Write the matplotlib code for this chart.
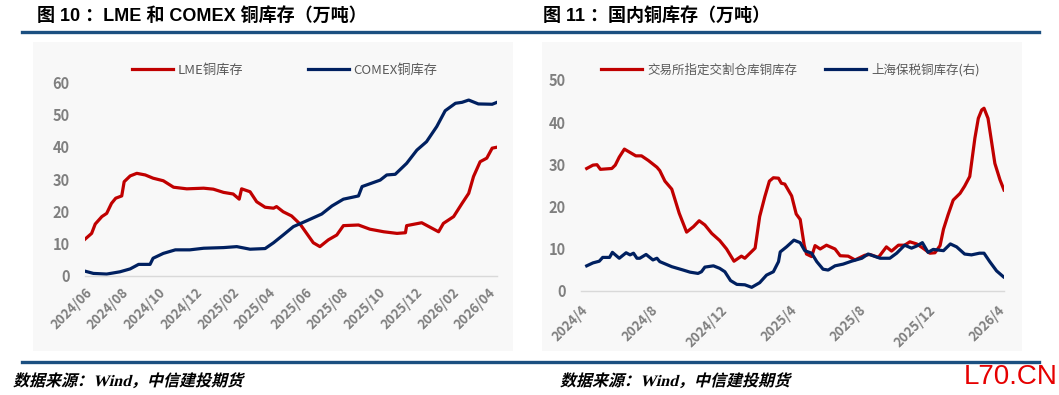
import matplotlib
matplotlib.use('Agg')
import matplotlib.pyplot as plt
import pandas as pd
from matplotlib.patches import Rectangle, PathPatch
from matplotlib.lines import Line2D
from matplotlib.textpath import TextPath
from matplotlib.font_manager import FontProperties
from matplotlib.transforms import Affine2D

plt.rcParams['font.family'] = ['Noto Sans CJK SC', 'DejaVu Sans']

# ---- 图10: LME / COMEX copper stocks (10k t) ----
lme_dates = ['2024-06-01', '2024-06-12', '2024-06-18', '2024-06-29', '2024-07-07', '2024-07-15',
             '2024-07-22', '2024-08-01', '2024-08-05', '2024-08-15', '2024-08-26', '2024-09-09',
             '2024-09-22', '2024-10-09', '2024-10-26', '2024-11-17', '2024-12-15', '2024-12-31',
             '2025-01-17', '2025-02-02', '2025-02-12', '2025-02-16', '2025-03-02', '2025-03-13',
             '2025-03-27', '2025-04-10', '2025-04-15', '2025-04-26', '2025-05-10', '2025-05-24',
             '2025-06-04', '2025-06-15', '2025-06-26', '2025-07-10', '2025-07-24', '2025-08-04',
             '2025-08-29', '2025-09-17', '2025-10-10', '2025-11-01', '2025-11-15', '2025-11-17',
             '2025-12-12', '2025-12-26', '2026-01-09', '2026-01-17', '2026-02-03', '2026-02-17',
             '2026-02-28', '2026-03-08', '2026-03-19', '2026-03-30', '2026-04-08', '2026-04-16']
lme_vals = [11.4, 13.2, 16.1, 18.4, 19.4, 22.5, 24.1, 24.8, 29.2, 31.0, 31.8, 31.3,
            30.3, 29.5, 27.5, 27.0, 27.2, 26.9, 25.9, 25.4, 23.8, 27.0, 26.1, 23.0,
            21.3, 21.0, 21.5, 19.9, 18.6, 16.1, 13.2, 10.3, 9.1, 11.2, 12.7, 15.6,
            15.8, 14.5, 13.7, 13.2, 13.4, 15.6, 16.5, 15.1, 13.7, 16.3, 18.4, 22.5,
            25.6, 30.8, 35.4, 36.5, 39.6, 39.9]

comex_dates = ['2024-06-01', '2024-06-15', '2024-07-07', '2024-07-29', '2024-08-15', '2024-08-29',
               '2024-09-17', '2024-09-22', '2024-10-09', '2024-10-29', '2024-11-22', '2024-12-15',
               '2025-01-17', '2025-02-08', '2025-03-02', '2025-03-27', '2025-04-10', '2025-04-26',
               '2025-05-13', '2025-06-04', '2025-06-29', '2025-07-16', '2025-08-04', '2025-08-29',
               '2025-09-04', '2025-10-04', '2025-10-15', '2025-10-29', '2025-11-17', '2025-12-04',
               '2025-12-20', '2026-01-06', '2026-01-20', '2026-02-06', '2026-02-17', '2026-02-28',
               '2026-03-16', '2026-04-08', '2026-04-16']
comex_vals = [1.5, 0.8, 0.6, 1.3, 2.2, 3.6, 3.6, 5.5, 7.0, 8.1, 8.1, 8.6,
              8.8, 9.1, 8.3, 8.5, 10.3, 12.7, 15.3, 17.1, 19.2, 21.7, 23.8, 24.8,
              27.7, 29.7, 31.3, 31.5, 34.9, 39.0, 41.6, 46.3, 51.2, 53.5, 53.8, 54.5,
              53.3, 53.2, 53.8]

# ---- 图11: domestic copper stocks (10k t) ----
shfe_dates = ['2024-04-11', '2024-04-22', '2024-04-29', '2024-05-05', '2024-05-25', '2024-05-31',
              '2024-06-07', '2024-06-16', '2024-06-26', '2024-07-06', '2024-07-16', '2024-07-28',
              '2024-08-12', '2024-08-17', '2024-08-26', '2024-09-07', '2024-09-20', '2024-10-03',
              '2024-10-15', '2024-10-25', '2024-11-04', '2024-11-16', '2024-11-30', '2024-12-12',
              '2024-12-25', '2025-01-07', '2025-01-13', '2025-01-31', '2025-02-08', '2025-02-17',
              '2025-02-25', '2025-03-04', '2025-03-13', '2025-03-18', '2025-03-24', '2025-04-05',
              '2025-04-13', '2025-04-20', '2025-04-27', '2025-05-01', '2025-05-10', '2025-05-16',
              '2025-05-25', '2025-06-05', '2025-06-20', '2025-06-29', '2025-07-13', '2025-07-25',
              '2025-08-11', '2025-08-20', '2025-09-04', '2025-09-18', '2025-09-27', '2025-10-09',
              '2025-10-20', '2025-10-29', '2025-11-10', '2025-11-21', '2025-12-03', '2025-12-12',
              '2025-12-21', '2025-12-27', '2026-01-04', '2026-01-13', '2026-01-25', '2026-02-02',
              '2026-02-11', '2026-02-20', '2026-02-26', '2026-03-04', '2026-03-08', '2026-03-15',
              '2026-03-27', '2026-04-05', '2026-04-12']
shfe_vals = [29.0, 29.8, 29.9, 28.8, 29.0, 29.8, 31.7, 33.6, 32.8, 32.0, 32.0, 30.9,
             29.3, 28.5, 26.0, 24.1, 18.4, 13.9, 15.2, 16.6, 15.6, 13.6, 11.9, 9.9,
             7.0, 8.2, 7.7, 10.1, 17.6, 22.3, 26.0, 26.8, 26.7, 25.5, 25.3, 22.5,
             18.2, 16.9, 10.8, 8.7, 8.1, 10.7, 9.9, 10.8, 9.9, 8.3, 8.2, 7.3,
             8.4, 8.6, 7.9, 10.4, 9.4, 10.8, 10.8, 11.6, 11.1, 10.1, 8.9, 9.0,
             10.7, 14.6, 18.0, 21.5, 23.1, 24.8, 27.1, 36.2, 40.9, 42.9, 43.3, 40.9,
             30.2, 26.3, 23.9]

bonded_dates = ['2024-04-11', '2024-04-22', '2024-05-03', '2024-05-09', '2024-05-21', '2024-05-26',
                '2024-06-07', '2024-06-19', '2024-06-26', '2024-07-02', '2024-07-08', '2024-07-13',
                '2024-07-24', '2024-08-05', '2024-08-12', '2024-08-17', '2024-09-07', '2024-09-27',
                '2024-10-09', '2024-10-23', '2024-10-29', '2024-11-04', '2024-11-19', '2024-11-30',
                '2024-12-09', '2024-12-19', '2024-12-30', '2025-01-13', '2025-01-25', '2025-02-08',
                '2025-02-20', '2025-03-04', '2025-03-13', '2025-03-16', '2025-03-27', '2025-04-09',
                '2025-04-20', '2025-04-28', '2025-05-10', '2025-05-19', '2025-05-30', '2025-06-08',
                '2025-06-20', '2025-07-04', '2025-07-19', '2025-08-06', '2025-08-17', '2025-09-07',
                '2025-09-24', '2025-10-06', '2025-10-20', '2025-11-01', '2025-11-10', '2025-11-20',
                '2025-11-30', '2025-12-09', '2025-12-27', '2026-01-08', '2026-01-19', '2026-02-02',
                '2026-02-14', '2026-02-28', '2026-03-08', '2026-03-18', '2026-03-30', '2026-04-11']
bonded_vals = [5.9, 6.6, 7.0, 7.9, 7.9, 9.1, 7.7, 9.0, 8.5, 8.9, 7.7, 7.7,
               8.6, 7.3, 7.7, 6.9, 5.7, 4.9, 4.4, 4.1, 4.5, 5.6, 5.9, 5.3,
               4.5, 2.4, 1.5, 1.4, 0.8, 1.9, 3.7, 4.5, 6.9, 9.2, 10.4, 12.0,
               11.4, 9.5, 8.9, 6.9, 5.1, 4.9, 5.9, 6.3, 7.0, 7.7, 8.7, 7.7,
               7.7, 8.9, 10.8, 10.1, 10.6, 11.4, 9.1, 9.8, 9.5, 11.1, 10.4, 8.7,
               8.5, 8.9, 8.9, 6.9, 4.7, 3.3]

RED = '#c00000'
NAVY = '#002060'
TICK = '#7f7f7f'
LEG = '#595959'
RULE = '#1b4f80'
W, H = 1059, 395

fig = plt.figure(figsize=(W / 100, H / 100), dpi=100)

# light panel backgrounds (behind the axes)
for x0 in (33, 542):
    fig.patches.append(Rectangle((x0 / W, 1 - 351 / H), 480 / W, 309 / H,
                                 transform=fig.transFigure, facecolor='#f8f8f8',
                                 edgecolor='none', zorder=-5))

# blue rules above and below
for yy in (32, 362):
    fig.add_artist(Line2D([22 / W, 1039 / W], [1 - yy / H, 1 - yy / H],
                          transform=fig.transFigure, color=RULE, lw=2.4))


def style_axes(ax, ymax, xpad):
    ax.set_facecolor('none')
    for s in ('top', 'right', 'left'):
        ax.spines[s].set_visible(False)
    ax.spines['bottom'].set_color('#d9d9d9')
    ax.spines['bottom'].set_linewidth(1.0)
    ax.set_ylim(0, ymax)
    ax.set_yticks(range(0, ymax + 1, 10))
    ax.tick_params(axis='y', length=0, pad=11, labelsize=10.5, labelcolor=TICK)
    ax.tick_params(axis='x', length=0, pad=xpad, labelsize=9.5, labelcolor=TICK)
    for lab in ax.get_yticklabels():
        lab.set_fontweight('bold')


# ---- left panel ----
ax1 = fig.add_axes([85 / W, 1 - 276 / H, (497 - 85) / W, (276 - 82.3) / H])
ax1.plot(pd.to_datetime(lme_dates), lme_vals, color=RED, lw=2.3, label='LME铜库存')
ax1.plot(pd.to_datetime(comex_dates), comex_vals, color=NAVY, lw=2.3, label='COMEX铜库存')
style_axes(ax1, 60, 7)
ax1.set_xlim(pd.Timestamp('2024-06-01'), pd.Timestamp('2026-04-16'))
ticks1 = pd.date_range('2024-06-01', '2026-04-01', freq='2MS')
ax1.set_xticks(ticks1)
ax1.set_xticklabels([d.strftime('%Y/%m') for d in ticks1], rotation=45, ha='right',
                    rotation_mode='anchor', fontweight='bold')
ax1.legend(loc='center left', bbox_to_anchor=(132 / W, 1 - 70 / H),
           bbox_transform=fig.transFigure, ncol=2, frameon=False, fontsize=9.5,
           handlelength=3.1, handletextpad=0.35, columnspacing=4.9,
           borderpad=0, borderaxespad=0, labelcolor=LEG)

# ---- right panel ----
ax2 = fig.add_axes([581 / W, 1 - 290.7 / H, (1004 - 581) / W, (290.7 - 80) / H])
ax2.plot(pd.to_datetime(shfe_dates), shfe_vals, color=RED, lw=2.3, label='交易所指定交割仓库铜库存')
ax2.plot(pd.to_datetime(bonded_dates), bonded_vals, color=NAVY, lw=2.3, label='上海保税铜库存(右)')
style_axes(ax2, 50, 9)
ax2.set_xlim(pd.Timestamp('2024-04-01'), pd.Timestamp('2026-04-12'))
ticks2 = pd.date_range('2024-04-01', '2026-04-01', freq='4MS')
ax2.set_xticks(ticks2)
ax2.set_xticklabels([f'{d.year}/{d.month}' for d in ticks2], rotation=45, ha='right',
                    rotation_mode='anchor', fontweight='bold')
ax2.legend(loc='center left', bbox_to_anchor=(601 / W, 1 - 70 / H),
           bbox_transform=fig.transFigure, ncol=2, frameon=False, fontsize=9,
           handlelength=3.3, handletextpad=0.4, columnspacing=2.2,
           borderpad=0, borderaxespad=0, labelcolor=LEG)

# ---- titles, sources, watermark ----
title_font = ['Liberation Sans', 'Noto Sans CJK SC']
fig.text(37 / W, 1 - 16 / H, '图 10 ：LME 和 COMEX 铜库存（万吨）', fontsize=13,
         fontweight='bold', family=title_font, va='center')
fig.text(543 / W, 1 - 16 / H, '图 11 ：国内铜库存（万吨）', fontsize=13,
         fontweight='bold', family=title_font, va='center')

# source line, slanted like the original italic
src_prop = FontProperties(family=['Liberation Serif', 'Noto Sans CJK SC'], weight='bold')
for x_px in (13, 560):
    tp = TextPath((0, 0), '数据来源：Wind，中信建投期货', size=16, prop=src_prop)
    tr = Affine2D().skew_deg(14, 0).translate(x_px, H - 386)
    fig.add_artist(PathPatch(tp, transform=tr, facecolor='black', edgecolor='none', lw=0))

fig.text(964 / W, 1 - 377 / H, 'L70.CN', color='#e60000', fontsize=20,
         family='Liberation Sans', va='center')

fig.savefig('out.png', dpi=100)
